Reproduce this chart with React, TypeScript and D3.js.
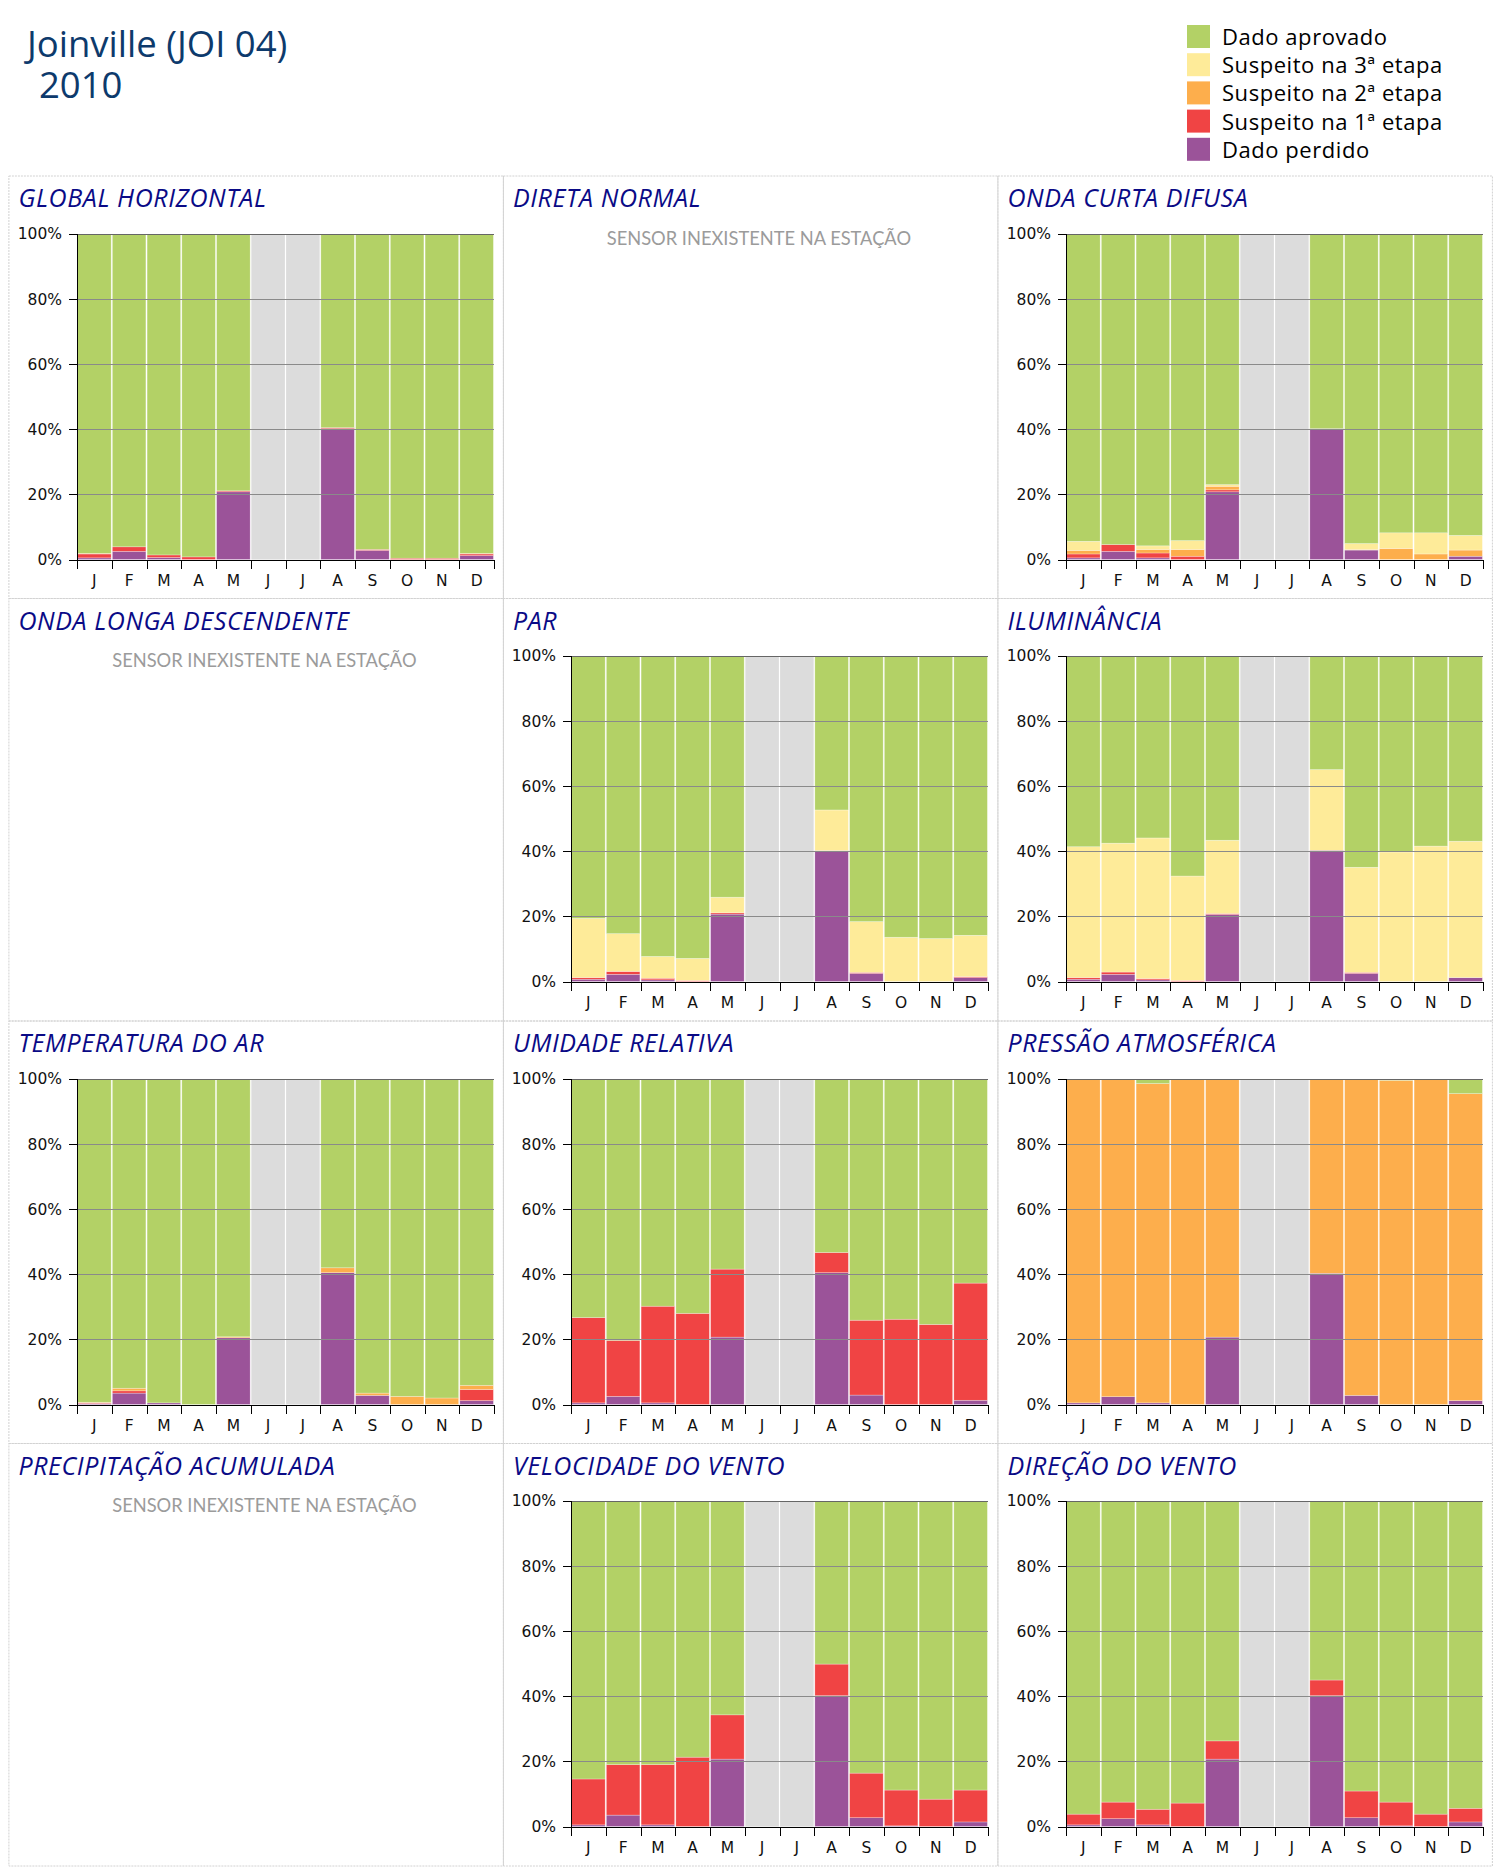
import React from "react";
import * as d3 from "d3";

// ---------- data ----------
const MONTHS = ["J", "F", "M", "A", "M", "J", "J", "A", "S", "O", "N", "D"];
const Y_TICKS = [0, 20, 40, 60, 80, 100];

const STACK_KEYS = ["perdido", "s1", "s2", "s3", "aprovado"];
const LEGEND_LABELS = ["Dado aprovado", "Suspeito na 3ª etapa", "Suspeito na 2ª etapa", "Suspeito na 1ª etapa", "Dado perdido"];
const LEGEND_KEYS = ["aprovado", "s3", "s2", "s1", "perdido"];
const COLORS: Record<string, string> = {
  aprovado: "#b3d166",
  s3: "#feeb99",
  s2: "#fdae4c",
  s1: "#f04444",
  perdido: "#9b5399",
};
const NO_DATA_COLOR = "#dcdcdc";

const PANEL_TITLES = [
  "GLOBAL HORIZONTAL", "DIRETA NORMAL", "ONDA CURTA DIFUSA",
  "ONDA LONGA DESCENDENTE", "PAR", "ILUMINÂNCIA",
  "TEMPERATURA DO AR", "UMIDADE RELATIVA", "PRESSÃO ATMOSFÉRICA",
  "PRECIPITAÇÃO ACUMULADA", "VELOCIDADE DO VENTO", "DIREÇÃO DO VENTO",
];
const MISSING_TEXT = "SENSOR INEXISTENTE NA ESTAÇÃO";

const N = null;
// Global horizontal
const ghPerdido = [0.5, 2.5, 0.6, 0, 20.8, N, N, 40.2, 2.8, 0, 0, 1.2];
const ghS1 = [1.2, 1.4, 0.8, 0.8, 0.3, N, N, 0.3, 0.3, 0.4, 0.4, 0.5];
const ghS2 = [0.2, 0, 0, 0, 0, N, N, 0, 0, 0, 0, 0.2];
const ghS3 = [0, 0, 0, 0, 0, N, N, 0, 0, 0, 0, 0];
// Onda curta difusa
const ocPerdido = [0.5, 2.5, 0.5, 0, 20.8, N, N, 40.2, 2.9, 0, 0, 1.0];
const ocS1 = [1.2, 2.1, 1.5, 1.0, 0.6, N, N, 0, 0, 0, 0, 0];
const ocS2 = [1.1, 0, 1.1, 2.1, 1.1, N, N, 0, 0.2, 3.4, 1.7, 1.9];
const ocS3 = [2.8, 0, 1.1, 2.7, 0.5, N, N, 0, 1.8, 4.8, 6.5, 4.5];
// PAR
const parPerdido = [0.7, 2.2, 0.5, 0, 20.7, N, N, 40.2, 2.5, 0, 0, 1.2];
const parS1 = [0.5, 0.9, 0.5, 0.3, 0.4, N, N, 0, 0.3, 0, 0, 0.3];
const parS2 = [0, 0, 0, 0, 0, N, N, 0, 0, 0, 0, 0];
const parS3 = [18.2, 11.6, 6.7, 6.8, 4.8, N, N, 12.5, 15.6, 13.6, 13.2, 12.7];
// Iluminância
const ilPerdido = [0.7, 2.2, 0.5, 0, 20.6, N, N, 40.3, 2.5, 0, 0, 1.2];
const ilS1 = [0.5, 0.7, 0.4, 0.3, 0.3, N, N, 0, 0.3, 0, 0, 0];
const ilS2 = [0, 0, 0, 0, 0, N, N, 0, 0, 0, 0, 0];
const ilS3 = [40.2, 39.6, 43.2, 32.1, 22.5, N, N, 24.8, 32.3, 39.8, 41.6, 41.9];
// Temperatura do ar
const taPerdido = [0.3, 3.5, 0.5, 0, 20.5, N, N, 40.5, 2.8, 0, 0, 1.2];
const taS1 = [0.2, 0.7, 0, 0, 0, N, N, 0, 0, 0, 0, 3.4];
const taS2 = [0.2, 0.8, 0, 0, 0.3, N, N, 1.5, 0.7, 2.5, 2.0, 1.3];
const taS3 = [0, 0, 0, 0, 0, N, N, 0, 0, 0, 0, 0];
// Umidade relativa
const urPerdido = [0.5, 2.5, 0.5, 0, 20.7, N, N, 40.5, 2.9, 0, 0, 1.3];
const urS1 = [26.2, 17.2, 29.7, 28.0, 20.9, N, N, 6.2, 23.0, 26.2, 24.6, 36.0];
const urS2 = [0, 0, 0, 0, 0, N, N, 0, 0, 0, 0, 0];
const urS3 = [0, 0, 0, 0, 0, N, N, 0, 0, 0, 0, 0];
// Pressão atmosférica
const paPerdido = [0.5, 2.4, 0.5, 0, 20.7, N, N, 40.3, 2.8, 0, 0, 1.2];
const paS1 = [0, 0, 0, 0, 0, N, N, 0, 0, 0, 0, 0];
const paS2 = [99.5, 97.6, 98.1, 100, 79.3, N, N, 59.7, 97.2, 99.6, 100, 94.3];
const paS3 = [0, 0, 0, 0, 0, N, N, 0, 0, 0, 0, 0];
// Velocidade do vento
const vvPerdido = [0.5, 3.5, 0.5, 0, 20.7, N, N, 40.2, 2.7, 0.2, 0, 1.4];
const vvS1 = [14.1, 15.5, 18.5, 21.3, 13.6, N, N, 9.7, 13.7, 11.0, 8.4, 9.8];
const vvS2 = [0, 0, 0, 0, 0, N, N, 0, 0, 0, 0, 0];
const vvS3 = [0, 0, 0, 0, 0, N, N, 0, 0, 0, 0, 0];
// Direção do vento
const dvPerdido = [0.5, 2.4, 0.5, 0, 20.7, N, N, 40.2, 2.7, 0.2, 0, 1.4];
const dvS1 = [3.3, 5.1, 4.8, 7.2, 5.6, N, N, 4.8, 8.2, 7.3, 3.8, 4.2];
const dvS2 = [0, 0, 0, 0, 0, N, N, 0, 0, 0, 0, 0];
const dvS3 = [0, 0, 0, 0, 0, N, N, 0, 0, 0, 0, 0];

type Series = { perdido: (number | null)[]; s1: (number | null)[]; s2: (number | null)[]; s3: (number | null)[] };

const PANEL_DATA: (Series | null)[] = [
  { perdido: ghPerdido, s1: ghS1, s2: ghS2, s3: ghS3 },
  null,
  { perdido: ocPerdido, s1: ocS1, s2: ocS2, s3: ocS3 },
  null,
  { perdido: parPerdido, s1: parS1, s2: parS2, s3: parS3 },
  { perdido: ilPerdido, s1: ilS1, s2: ilS2, s3: ilS3 },
  { perdido: taPerdido, s1: taS1, s2: taS2, s3: taS3 },
  { perdido: urPerdido, s1: urS1, s2: urS2, s3: urS3 },
  { perdido: paPerdido, s1: paS1, s2: paS2, s3: paS3 },
  null,
  { perdido: vvPerdido, s1: vvS1, s2: vvS2, s3: vvS3 },
  { perdido: dvPerdido, s1: dvS1, s2: dvS2, s3: dvS3 },
];

// ---------- layout ----------
const PANEL_X0 = 8.4;
const PANEL_Y0 = 175.5;
const PANEL_W = 494.5;
const PANEL_H = 422.5;
const PLOT_DX = 68.5;
const PLOT_DY = 58;
const PLOT_W = 417;
const PLOT_H = 325.5;

const TICK_FONT = "'DejaVu Sans', Verdana, sans-serif";

function Panel({ idx }: { idx: number }) {
  const col = idx % 3;
  const row = Math.floor(idx / 3);
  const x0 = PANEL_X0 + col * PANEL_W;
  const y0 = PANEL_Y0 + row * PANEL_H;
  const title = PANEL_TITLES[idx];
  const series = PANEL_DATA[idx];

  const gx = Math.round(x0 + PLOT_DX);
  const gy = Math.round(y0 + PLOT_DY);

  const x = d3.scaleBand<number>().domain(d3.range(12)).range([0, PLOT_W]).paddingInner(0).paddingOuter(0);
  const y = d3.scaleLinear().domain([0, 100]).range([PLOT_H, 0]);
  const bw = x.bandwidth();

  let bars: React.ReactNode[] = [];
  if (series) {
    const rows = MONTHS.map((_, i) => {
      const p = series.perdido[i] ?? 0;
      const a = series.s1[i] ?? 0;
      const b = series.s2[i] ?? 0;
      const c = series.s3[i] ?? 0;
      return { perdido: p, s1: a, s2: b, s3: c, aprovado: Math.max(0, 100 - p - a - b - c) };
    });
    const stacked = d3.stack<any>().keys(STACK_KEYS)(rows);
    MONTHS.forEach((_, i) => {
      const bx = (x(i) as number) + 0.6;
      const w = bw - 1.2;
      if (series.perdido[i] === null) {
        bars.push(<rect key={`g${i}`} x={bx} y={y(100)} width={w} height={y(0) - y(100)} fill={NO_DATA_COLOR} />);
        return;
      }
      stacked.forEach((layer) => {
        const d = layer[i];
        const h = y(d[0]) - y(d[1]);
        if (h <= 0.01) return;
        bars.push(
          <rect key={`${layer.key}${i}`} x={bx} y={y(d[1])} width={w} height={h}
            fill={COLORS[layer.key as string]} stroke="#ffffff" strokeOpacity={0.45} strokeWidth={0.6} />
        );
      });
    });
  }

  return (
    <g>
      <rect x={x0 + 0.5} y={y0 + 0.5} width={PANEL_W} height={PANEL_H} fill="none"
        stroke="#d2d2d2" strokeDasharray="2 1" strokeWidth={1} />
      <text x={x0 + 10} y={y0 + 31.5} fontFamily="'Open Sans', sans-serif" fontStyle="italic"
        fontSize={25} letterSpacing={0.6} fill="#0a0a86">{title}</text>
      {!series && (
        <text x={x0 + 256} y={y0 + 69} textAnchor="middle" fontFamily="Lato, sans-serif" fontSize={18.3} fill="#9b9b9b">
          {MISSING_TEXT}
        </text>
      )}
      {series && (
        <g transform={`translate(${gx},${gy})`}>
          {bars}
          {Y_TICKS.filter((t) => t > 0).map((t) => (
            <line key={`gl${t}`} x1={0} x2={PLOT_W} y1={Math.round(y(t)) + 0.5} y2={Math.round(y(t)) + 0.5}
              stroke={t === 100 ? "#666" : "#8a8a8a"} strokeWidth={1} shapeRendering="crispEdges" />
          ))}
          {/* y axis */}
          <line x1={0.5} x2={0.5} y1={y(100)} y2={Math.round(y(0)) + 1} stroke="#000" strokeWidth={1} shapeRendering="crispEdges" />
          {Y_TICKS.map((t) => (
            <g key={`yt${t}`}>
              <line x1={-8} x2={0} y1={Math.round(y(t)) + 0.5} y2={Math.round(y(t)) + 0.5} stroke="#000" shapeRendering="crispEdges" />
              <text x={-15} y={y(t)} dy="0.35em" textAnchor="end" fontFamily={TICK_FONT} fontSize={15.5} fill="#111">
                {`${t}%`}
              </text>
            </g>
          ))}
          {/* x axis */}
          <line x1={0} x2={PLOT_W + 1} y1={Math.round(y(0)) + 0.5} y2={Math.round(y(0)) + 0.5} stroke="#000" shapeRendering="crispEdges" />
          {d3.range(13).map((k) => {
            const tx = Math.round(k < 12 ? (x(k) as number) : PLOT_W) + 0.5;
            return <line key={`xt${k}`} x1={tx} x2={tx} y1={Math.round(y(0))} y2={Math.round(y(0)) + 9} stroke="#000" shapeRendering="crispEdges" />;
          })}
          {MONTHS.map((m, i) => (
            <text key={`xl${i}`} x={(x(i) as number) + bw / 2} y={y(0) + 26.5} textAnchor="middle"
              fontFamily={TICK_FONT} fontSize={15.5} fill="#111">{m}</text>
          ))}
        </g>
      )}
    </g>
  );
}

export default function App() {
  return (
    <svg width={1500} height={1874} viewBox="0 0 1500 1874"
      style={{ position: "absolute", left: 0, top: 0, background: "#fff", display: "block" }}>
      <rect x={0} y={0} width={1500} height={1874} fill="#fff" />
      <text x={27} y={57} fontFamily="'Open Sans', sans-serif" fontSize={36.5} fill="#0d3a6c">Joinville (JOI 04)</text>
      <text x={39} y={98} fontFamily="'Open Sans', sans-serif" fontSize={36.5} fill="#0d3a6c">2010</text>
      {LEGEND_KEYS.map((k, i) => (
        <g key={k}>
          <rect x={1187} y={25 + i * 28.2} width={23} height={23} fill={COLORS[k]} />
          <text x={1222} y={45 + i * 28.2} fontFamily="'Open Sans', sans-serif" fontSize={22} letterSpacing={0.55} fill="#000">
            {LEGEND_LABELS[i]}
          </text>
        </g>
      ))}
      {PANEL_TITLES.map((_, i) => <Panel key={i} idx={i} />)}
    </svg>
  );
}
